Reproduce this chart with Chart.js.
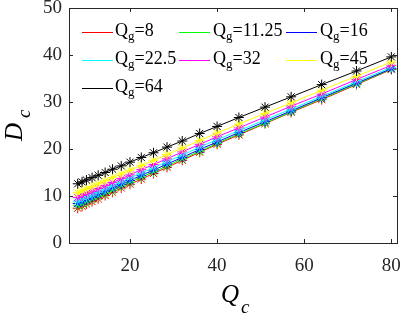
<!DOCTYPE html>
<html>
<head>
<meta charset="utf-8">
<script src="https://cdn.jsdelivr.net/npm/chart.js@4/dist/chart.umd.min.js"></script>
<style>
  html, body { margin: 0; background: #fff; }
  #wrap { width: 403px; height: 316px; }
</style>
</head>
<body>
<div id="wrap"><canvas id="chart"></canvas></div>
<script>
// Q_c sample points (x axis)
const qc = [8, 9, 10, 11.3, 12.7, 14.3, 16, 18, 20, 22.6, 25.4, 28.5, 32, 36, 40, 45, 51, 57, 64, 72, 80];

// D_c for each Q_g curve
const dcQg8    = [7.4, 7.8, 8.3, 8.8, 9.4, 10.1, 10.8, 11.7, 12.5, 13.6, 14.8, 16.1, 17.6, 19.3, 21.0, 23.0, 25.4, 27.8, 30.5, 33.7, 36.9];
const dcQg1125 = [7.9, 8.3, 8.7, 9.3, 9.9, 10.5, 11.2, 12.1, 12.9, 14.0, 15.1, 16.4, 17.9, 19.5, 21.2, 23.2, 25.5, 27.9, 30.7, 33.8, 37.0];
const dcQg16   = [8.4, 8.8, 9.2, 9.7, 10.3, 11.0, 11.7, 12.5, 13.3, 14.4, 15.5, 16.8, 18.2, 19.9, 21.5, 23.5, 25.8, 28.1, 30.9, 34.0, 37.1];
const dcQg225  = [8.9, 9.3, 9.7, 10.2, 10.8, 11.5, 12.2, 13.0, 13.8, 14.9, 16.0, 17.3, 18.7, 20.4, 22.0, 23.9, 26.2, 28.5, 31.2, 34.3, 37.4];
const dcQg32   = [9.7, 10.1, 10.5, 11.0, 11.6, 12.2, 12.9, 13.7, 14.5, 15.6, 16.7, 17.9, 19.4, 21.0, 22.6, 24.5, 26.8, 29.1, 31.7, 34.8, 37.8];
const dcQg45   = [10.7, 11.1, 11.5, 12.0, 12.6, 13.2, 13.9, 14.7, 15.5, 16.5, 17.6, 18.8, 20.2, 21.8, 23.4, 25.3, 27.6, 29.8, 32.5, 35.5, 38.5];
const dcQg64   = [12.6, 13.0, 13.4, 13.9, 14.4, 15.0, 15.7, 16.4, 17.2, 18.2, 19.2, 20.4, 21.7, 23.3, 24.8, 26.7, 28.9, 31.1, 33.7, 36.6, 39.6];

const qgLabels = ['8', '11.25', '16', '22.5', '32', '45', '64'];
const series = [dcQg8, dcQg1125, dcQg16, dcQg225, dcQg32, dcQg45, dcQg64];
const colors = ['#ff0000', '#00ff00', '#0000ff', '#00ffff', '#ff00ff', '#ffff00', '#000000'];

const xTicks = [20, 40, 60, 80];
const yTicks = [0, 10, 20, 30, 40, 50];

const AXIS = '#262626';
const SERIF = '"Liberation Serif", "DejaVu Serif", serif';

// box + inward tick marks, legend and axis titles (with subscripts)
const decor = {
  id: 'decor',
  afterDatasetsDraw(chart) {
    const { ctx, chartArea: a, scales } = chart;
    ctx.save();
    ctx.strokeStyle = AXIS;
    ctx.lineWidth = 1;
    ctx.strokeRect(Math.round(a.left) + 0.5, Math.round(a.top) + 0.5,
      Math.round(a.right - a.left), Math.round(a.bottom - a.top));
    ctx.beginPath();
    xTicks.forEach(v => {
      const x = Math.round(scales.x.getPixelForValue(v)) + 0.5;
      ctx.moveTo(x, a.bottom); ctx.lineTo(x, a.bottom - 4);
      ctx.moveTo(x, a.top); ctx.lineTo(x, a.top + 4);
    });
    yTicks.forEach(v => {
      const y = Math.round(scales.y.getPixelForValue(v)) + 0.5;
      ctx.moveTo(a.left, y); ctx.lineTo(a.left + 4, y);
      ctx.moveTo(a.right, y); ctx.lineTo(a.right - 4, y);
    });
    ctx.stroke();

    // legend (lines only, 3 columns)
    const lineX = [82, 179, 286], textX = [115, 213, 320], rowY = [32, 60, 88];
    qgLabels.forEach((lab, i) => {
      const col = i % 3, row = Math.floor(i / 3);
      const y = rowY[row];
      ctx.strokeStyle = colors[i];
      ctx.beginPath();
      ctx.moveTo(lineX[col], y + 0.5);
      ctx.lineTo(lineX[col] + 31, y + 0.5);
      ctx.stroke();
      ctx.fillStyle = '#000';
      ctx.textBaseline = 'alphabetic';
      ctx.textAlign = 'left';
      let x = textX[col];
      ctx.font = '18px ' + SERIF;
      ctx.fillText('Q', x, y + 4);
      x += ctx.measureText('Q').width;
      ctx.font = '13px ' + SERIF;
      ctx.fillText('g', x, y + 8);
      x += ctx.measureText('g').width;
      ctx.font = '18px ' + SERIF;
      ctx.fillText('=' + lab, x, y + 4);
    });

    // x title Q_c
    ctx.fillStyle = '#000';
    ctx.font = 'italic 25px ' + SERIF;
    ctx.fillText('Q', 221, 302);
    const qw = ctx.measureText('Q').width;
    ctx.font = 'italic 19px ' + SERIF;
    ctx.fillText('c', 221 + qw + 2, 313);

    // y title D_c
    ctx.translate(22, 141);
    ctx.rotate(-Math.PI / 2);
    ctx.font = 'italic 25px ' + SERIF;
    ctx.fillText('D', 0, 0);
    const dw = ctx.measureText('D').width;
    ctx.font = 'italic 19px ' + SERIF;
    ctx.fillText('c', dw + 5, 8);
    ctx.restore();
  }
};

new Chart(document.getElementById('chart'), {
  type: 'line',
  data: {
    datasets: series.map((vals, i) => ({
      label: 'Qg=' + qgLabels[i],
      data: qc.map((x, k) => ({ x: x, y: vals[k] })),
      borderColor: colors[i],
      backgroundColor: colors[i],
      borderWidth: 1,
      pointStyle: 'star',
      pointRadius: 5,
      pointBorderWidth: 1,
      pointHoverRadius: 5,
      tension: 0,
      fill: false,
      order: series.length - i
    }))
  },
  options: {
    responsive: true,
    maintainAspectRatio: false,
    devicePixelRatio: 1,
    animation: false,
    events: [],
    layout: { padding: { top: 8, right: 6, left: 0, bottom: 0 } },
    plugins: { legend: { display: false }, tooltip: { enabled: false } },
    scales: {
      x: {
        type: 'linear',
        min: 6,
        max: 81.3,
        afterBuildTicks: s => { s.ticks = xTicks.map(v => ({ value: v })); },
        afterFit: s => { s.height = 73; s.paddingLeft = 0; s.paddingRight = 0; },
        grid: { display: false, drawTicks: false },
        border: { display: false },
        ticks: { color: AXIS, padding: 12, maxRotation: 0, font: { family: SERIF, size: 19 } }
      },
      y: {
        type: 'linear',
        min: 0,
        max: 50,
        afterBuildTicks: s => { s.ticks = yTicks.map(v => ({ value: v })); },
        afterFit: s => { s.width = 69; s.paddingTop = 0; s.paddingBottom = 0; },
        grid: { display: false, drawTicks: false },
        border: { display: false },
        ticks: { color: AXIS, padding: 7, font: { family: SERIF, size: 19 } }
      }
    }
  },
  plugins: [decor]
});
</script>
</body>
</html>
